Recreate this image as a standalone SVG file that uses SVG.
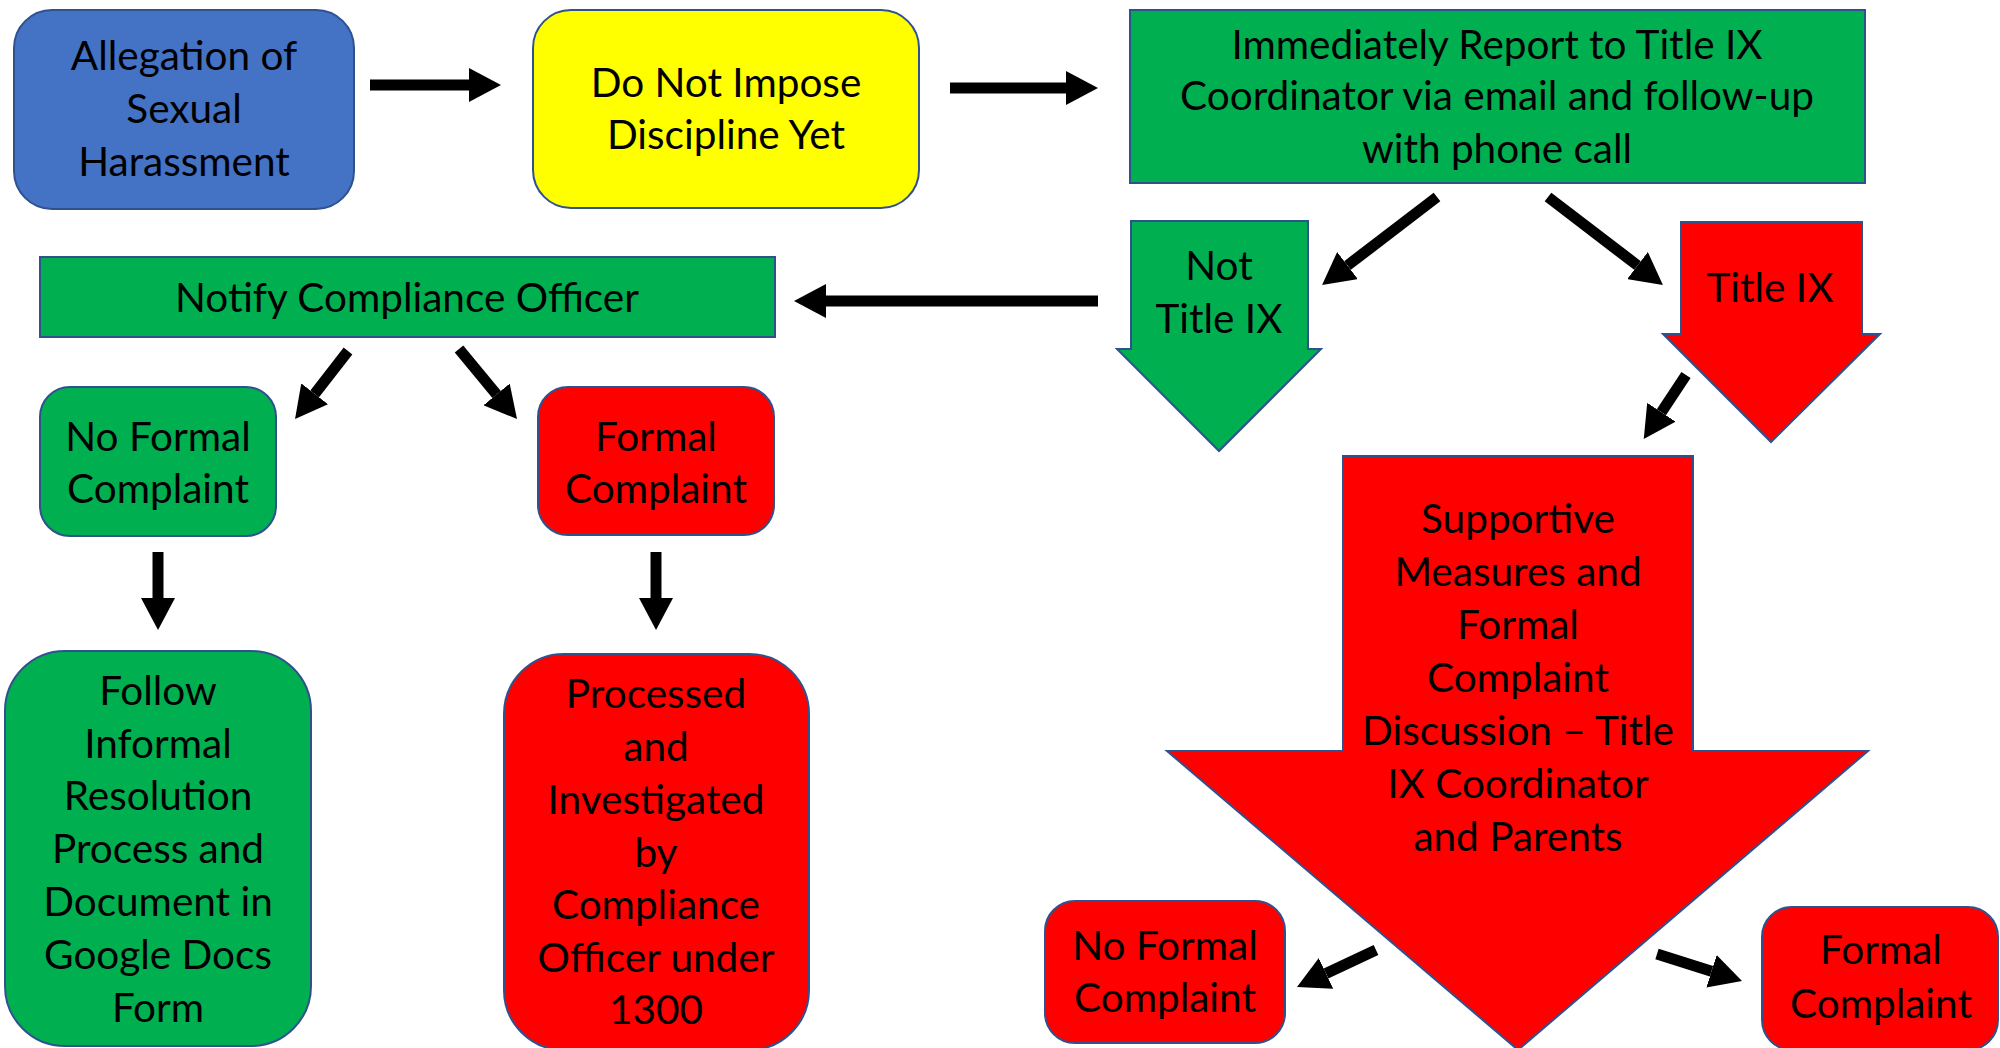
<svg xmlns="http://www.w3.org/2000/svg" width="2000" height="1048" viewBox="0 0 2000 1048">
<defs>
<style>
.box{stroke:#2F528F;stroke-width:2}
.blue{fill:#4472C4}.yellow{fill:#FFFF00}.green{fill:#00B050}.red{fill:#FF0000}
text{font-family:Lato,"Open Sans","Liberation Sans",sans-serif;font-size:40.5px;fill:#000;text-anchor:middle}
.conn{stroke:#000;stroke-width:11;fill:none;marker-end:url(#ah)}
</style>
<marker id="ah" markerUnits="userSpaceOnUse" markerWidth="32" markerHeight="34" viewBox="0 0 32 34" refX="0" refY="17" orient="auto">
<path d="M0,0 L32,17 L0,34 Z" fill="#000"/>
</marker>
</defs>
<rect width="2000" height="1048" fill="#fff"/>

<g id="allegation">
<rect class="box blue" x="14" y="10" width="340" height="199" rx="38"/>
<text x="184" y="70">Allegation of</text>
<text x="184" y="123">Sexual</text>
<text x="184" y="176">Harassment</text>
</g>

<g id="do-not-impose">
<rect class="box yellow" x="533" y="10" width="386" height="198" rx="38"/>
<text x="726" y="97">Do Not Impose</text>
<text x="726" y="149">Discipline Yet</text>
</g>

<g id="report-title-ix">
<rect class="box green" x="1130" y="10" width="735" height="173"/>
<text x="1497" y="59">Immediately Report to Title IX</text>
<text x="1497" y="110">Coordinator via email and follow-up</text>
<text x="1497" y="163">with phone call</text>
</g>

<g id="notify-compliance">
<rect class="box green" x="40" y="257" width="735" height="80"/>
<text x="407" y="312">Notify Compliance Officer</text>
</g>

<g id="not-title-ix">
<polygon class="box green" points="1131,221 1308,221 1308,349 1321,349 1219,451 1117,349 1131,349"/>
<text x="1219" y="280">Not</text>
<text x="1219" y="333">Title IX</text>
</g>

<g id="title-ix">
<polygon class="box red" points="1681,222 1862,222 1862,334 1880,334 1771,442 1663,334 1681,334"/>
<text x="1770" y="302">Title IX</text>
</g>

<g id="no-formal-left">
<rect class="box green" x="40" y="387" width="236" height="149" rx="30"/>
<text x="158" y="451">No Formal</text>
<text x="158" y="503">Complaint</text>
</g>

<g id="formal-left">
<rect class="box red" x="538" y="387" width="236" height="148" rx="30"/>
<text x="656" y="451">Formal</text>
<text x="656" y="503">Complaint</text>
</g>

<g id="follow-informal">
<rect class="box green" x="5" y="651" width="306" height="395" rx="60"/>
<text x="158" y="705">Follow</text>
<text x="158" y="758">Informal</text>
<text x="158" y="810">Resolution</text>
<text x="158" y="863">Process and</text>
<text x="158" y="916">Document in</text>
<text x="158" y="969">Google Docs</text>
<text x="158" y="1022">Form</text>
</g>

<g id="processed">
<rect class="box red" x="504" y="654" width="305" height="396" rx="60"/>
<text x="656" y="708">Processed</text>
<text x="656" y="761">and</text>
<text x="656" y="814">Investigated</text>
<text x="656" y="867">by</text>
<text x="656" y="919">Compliance</text>
<text x="656" y="972">Officer under</text>
<text x="656" y="1024">1300</text>
</g>

<g id="supportive-measures">
<polygon class="box red" points="1343,456 1693,456 1693,751 1868,751 1518,1050 1167,751 1343,751"/>
<text x="1518" y="533">Supportive</text>
<text x="1518" y="586">Measures and</text>
<text x="1518" y="639">Formal</text>
<text x="1518" y="692">Complaint</text>
<text x="1518" y="745">Discussion – Title</text>
<text x="1518" y="798">IX Coordinator</text>
<text x="1518" y="851">and Parents</text>
</g>

<g id="no-formal-right">
<rect class="box red" x="1045" y="901" width="240" height="142" rx="30"/>
<text x="1165" y="960">No Formal</text>
<text x="1165" y="1012">Complaint</text>
</g>

<g id="formal-right">
<rect class="box red" x="1762" y="907" width="236" height="143" rx="30"/>
<text x="1881" y="964">Formal</text>
<text x="1881" y="1018">Complaint</text>
</g>

<g id="connectors">
<line class="conn" x1="370" y1="85" x2="469" y2="85"/>
<line class="conn" x1="950" y1="88" x2="1066" y2="88"/>
<line class="conn" x1="1098" y1="301" x2="826" y2="301"/>
<line class="conn" x1="1437" y1="197" x2="1347.5" y2="265.5"/>
<line class="conn" x1="1548" y1="197" x2="1637.5" y2="265.5"/>
<line class="conn" x1="1686" y1="375" x2="1661.4" y2="412.2"/>
<line class="conn" x1="348" y1="351" x2="314.7" y2="393.8"/>
<line class="conn" x1="459" y1="349" x2="496.6" y2="394.4"/>
<line class="conn" x1="158" y1="552" x2="158" y2="598"/>
<line class="conn" x1="656" y1="552" x2="656" y2="598"/>
<line class="conn" x1="1376" y1="950" x2="1326" y2="973.4"/>
<line class="conn" x1="1657" y1="954" x2="1711.5" y2="971.3"/>
</g>
</svg>
